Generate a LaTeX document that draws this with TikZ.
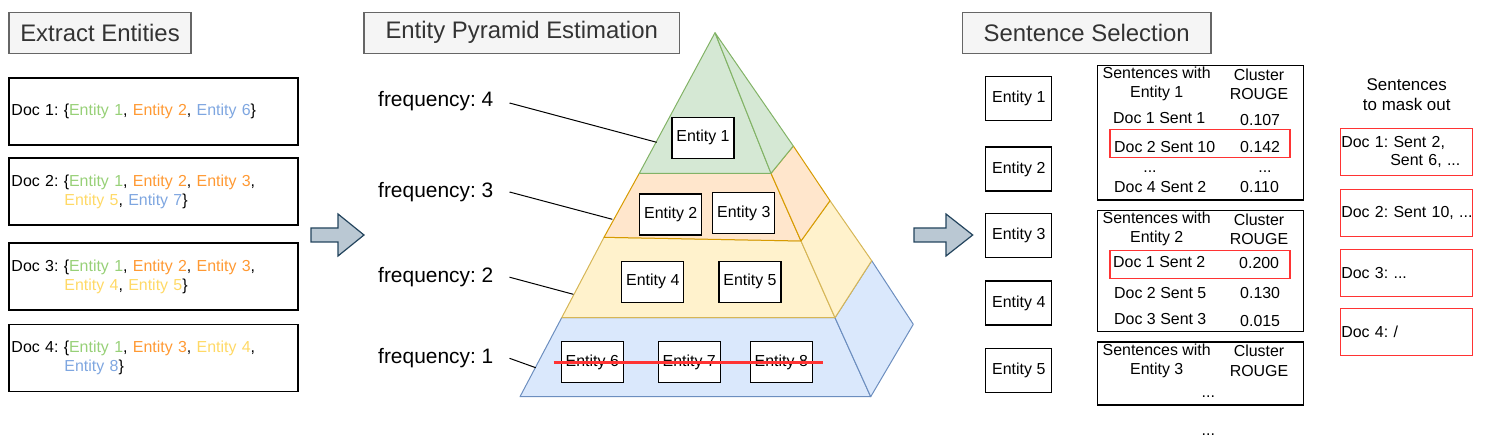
\documentclass[tikz,border=0pt]{standalone}
\usepackage{fontspec}
\setmainfont{Liberation Sans}
\usetikzlibrary{positioning}
\frenchspacing

\definecolor{verde}{HTML}{97D077}
\definecolor{laranja}{HTML}{FF9933}
\definecolor{amarelo}{HTML}{FFD966}
\definecolor{azul}{HTML}{7EA6E0}
\definecolor{verdeclaro}{HTML}{D5E8D4}
\definecolor{verdeborda}{HTML}{82B366}
\definecolor{laranjaclaro}{HTML}{FFE6CC}
\definecolor{laranjaborda}{HTML}{D79B00}
\definecolor{amareloclaro}{HTML}{FFF2CC}
\definecolor{amareloborda}{HTML}{D6B656}
\definecolor{azulclaro}{HTML}{DAE8FC}
\definecolor{azulborda}{HTML}{6C8EBF}
\definecolor{cinzafundo}{HTML}{F5F5F5}
\definecolor{cinzaborda}{HTML}{666666}
\definecolor{cinzatexto}{HTML}{333333}
\definecolor{setafundo}{HTML}{BAC8D3}
\definecolor{setaborda}{HTML}{23445D}
\definecolor{vermelho}{HTML}{FF3333}

\newcommand{\ent}[2]{\textcolor{#1}{Entity #2}}

\begin{document}
\begin{tikzpicture}[x=1bp, y=-1bp,
    font=\fontsize{16}{19.3}\selectfont,
    titulo/.style={draw=cinzaborda, fill=cinzafundo, text=cinzatexto, line width=1.2bp,
        font=\fontsize{24}{28}\selectfont, minimum height=41bp, inner sep=0},
    doc/.style={draw, line width=1.2bp, text width=284bp, inner xsep=2.5bp, align=left,
        minimum height=67bp},
    entidade/.style={draw, fill=white, line width=1.2bp, minimum width=62bp, minimum height=41bp, inner sep=0},
    entidadedir/.style={entidade, minimum width=66bp, minimum height=44bp},
    tabela/.style={draw, line width=1.2bp, minimum width=205.6bp, inner sep=0},
    destaque/.style={draw=vermelho, line width=1.2bp, minimum width=180bp, minimum height=27.6bp, inner sep=0},
    mascara/.style={draw=vermelho, line width=1.2bp, text width=130.4bp, inner xsep=1bp, align=left,
        minimum height=47bp, font=\fontsize{16}{17.7}\selectfont},
    freq/.style={anchor=west, inner sep=0, font=\fontsize{21}{24}\selectfont},
    linha/.style={anchor=west, inner sep=0},
    pontos/.style={anchor=base, inner sep=0},
    seta/.style={fill=setafundo, draw=setaborda, line width=1.2bp, line join=miter},
    camada/.style={line width=1bp, line join=round}
]
\useasboundingbox (0,0) rectangle (1492,438); % area da figura

% titulos
\node[titulo, minimum width=182bp] (tit1) at (100,32.8) {Extract Entities};
\node[titulo, minimum width=315.3bp] (tit2) at (521.7,32.8) {Entity Pyramid Estimation};
\node[titulo, minimum width=248.7bp] (tit3) at (1086.7,32.8) {Sentence Selection};

% documentos
\node[doc] (doc1) at (153.5,111.5) {Doc 1: \{\ent{verde}{1}, \ent{laranja}{2}, \ent{azul}{6}\}};
\node[doc] (doc2) at (153.5,191.5) {Doc 2: \{\ent{verde}{1}, \ent{laranja}{2}, \ent{laranja}{3},\\
    \hspace*{53bp}\ent{amarelo}{5}, \ent{azul}{7}\}};
\node[doc] (doc3) at (153.5,276.5) {Doc 3: \{\ent{verde}{1}, \ent{laranja}{2}, \ent{laranja}{3},\\
    \hspace*{53bp}\ent{amarelo}{4}, \ent{amarelo}{5}\}};
\node[doc] (doc4) at (153.5,358) {Doc 4: \{\ent{verde}{1}, \ent{laranja}{3}, \ent{amarelo}{4},\\
    \hspace*{53bp}\ent{azul}{8}\}};

% setas
\draw[seta] (311,228) -- (338,228) -- (338,214) -- (364,235) -- (338,256) -- (338,242) -- (311,242) -- cycle; % seta 1
\draw[seta] (914,228) -- (946,228) -- (946,214) -- (972.7,235) -- (946,256) -- (946,242) -- (914,242) -- cycle; % seta 2

% piramide
\coordinate (topo) at (715,32.7);
\coordinate (g1) at (639.3,173.3); \coordinate (g2) at (771,173.3); \coordinate (g3) at (793.3,146);
\coordinate (o1) at (604,237.3); \coordinate (o2) at (801,241); \coordinate (o3) at (830,200.7);
\coordinate (a1) at (561.7,317.7); \coordinate (a2) at (835,317.7); \coordinate (a3) at (871.7,260.7);
\coordinate (b1) at (520,396.7); \coordinate (b2) at (870.7,396.7); \coordinate (b3) at (913.3,324.3);
\draw[camada, fill=azulclaro, draw=azulborda] (a1) -- (a2) -- (b2) -- (b1) -- cycle; % frente azul
\draw[camada, fill=azulclaro, draw=azulborda] (a2) -- (a3) -- (b3) -- (b2) -- cycle; % lado azul
\draw[camada, fill=amareloclaro, draw=amareloborda] (o1) -- (o2) -- (a2) -- (a1) -- cycle; % frente amarela
\draw[camada, fill=amareloclaro, draw=amareloborda] (o2) -- (o3) -- (a3) -- (a2) -- cycle; % lado amarelo
\draw[camada, fill=laranjaclaro, draw=laranjaborda] (g1) -- (g2) -- (o2) -- (o1) -- cycle; % frente laranja
\draw[camada, fill=laranjaclaro, draw=laranjaborda] (g2) -- (g3) -- (o3) -- (o2) -- cycle; % lado laranja
\draw[camada, fill=verdeclaro, draw=verdeborda] (topo) -- (g1) -- (g2) -- cycle; % frente verde
\draw[camada, fill=verdeclaro, draw=verdeborda] (topo) -- (g2) -- (g3) -- cycle; % lado verde

% entidades na piramide
\node[entidade] (e1) at (703,137.8) {Entity 1};
\node[entidade] (e2) at (670.7,214.5) {Entity 2};
\node[entidade] (e3) at (743.8,213.3) {Entity 3};
\node[entidade] (e4) at (652.8,281.8) {Entity 4};
\node[entidade] (e5) at (750,281.8) {Entity 5};
\node[entidade] (e6) at (592.3,362.2) {Entity 6};
\node[entidade] (e7) at (689.2,362.2) {Entity 7};
\node[entidade] (e8) at (781.3,362.2) {Entity 8};
\draw[vermelho, line width=2.6bp] ([xshift=-7bp]e6.west) -- ([xshift=10bp]e8.east); % riscado

% frequencias
\node[freq] (f4) at (378,101.5) {frequency: 4};
\node[freq] (f3) at (378,192) {frequency: 3};
\node[freq] (f2) at (378,277.2) {frequency: 2};
\node[freq] (f1) at (378,358.3) {frequency: 1};
\coordinate (p4) at (656.7,142.3);
\coordinate (p3) at (612.3,219.3);
\coordinate (p2) at (573.3,294.3);
\coordinate (p1) at (535.7,367.7);
\draw[line width=1bp] ([xshift=16bp,yshift=-1.5bp]f4.east) -- (p4);
\draw[line width=1bp] ([xshift=16bp]f3.east) -- (p3);
\draw[line width=1bp] ([xshift=16bp]f2.east) -- (p2);
\draw[line width=1bp] ([xshift=16bp]f1.east) -- (p1);

% entidades da selecao
\node[entidadedir] (s1) at (1018.8,98.5) {Entity 1};
\node[entidadedir] (s2) at (1018.8,169) {Entity 2};
\node[entidadedir] (s3) at (1018.8,235.8) {Entity 3};
\node[entidadedir] (s4) at (1018.8,303) {Entity 4};
\node[entidadedir] (s5) at (1018.8,370.5) {Entity 5};

% tabelas
\node[tabela, minimum height=134.3bp] (t1) at (1200.5,132.8) {};
\node[tabela, minimum height=121bp] (t2) at (1200.5,271.2) {};
\node[tabela, minimum height=63bp] (t3) at (1200.5,373.5) {};
\node[destaque] (h1) at (1200,143.5) {};
\node[destaque] (h2) at (1200,264.5) {};

\node[align=center, inner sep=0] (t1a) at (1156.7,84.2) {Sentences with\\Entity 1};
\node[align=center, inner sep=0] (t1b) at (1259,84.2) {Cluster\\ROUGE};
\node[linha] (r11) at (1113,117.7) {Doc 1 Sent 1};
\node[linha] (v11) at (1240,120) {0.107};
\node[linha] (r12) at (1114,147.3) {Doc 2 Sent 10};
\node[linha] (v12) at (1240,147.3) {0.142};
\node[pontos] (r13) at (1150,172.5) {...};
\node[pontos] (v13) at (1265,172.5) {...};
\node[linha] (r14) at (1114,187.3) {Doc 4 Sent 2};
\node[linha] (v14) at (1240,187.3) {0.110};

\node[align=center, inner sep=0] (t2a) at (1156.7,229.2) {Sentences with\\Entity 2};
\node[align=center, inner sep=0] (t2b) at (1259,229.2) {Cluster\\ROUGE};
\node[linha] (r21) at (1113,262.3) {Doc 1 Sent 2};
\node[linha] (v21) at (1239,263) {0.200};
\node[linha] (r22) at (1114,293.3) {Doc 2 Sent 5};
\node[linha] (v22) at (1240,293.3) {0.130};
\node[linha] (r23) at (1114,319.3) {Doc 3 Sent 3};
\node[linha] (v23) at (1240,321) {0.015};

\node[align=center, inner sep=0] (t3a) at (1156.7,360.8) {Sentences with\\Entity 3};
\node[align=center, inner sep=0] (t3b) at (1259,360.8) {Cluster\\ROUGE};
\node[pontos] (r31) at (1208.3,397) {...};
\node[pontos] (mais) at (1208.3,435) {...};

% sentencas mascaradas
\node[align=center, inner sep=0, font=\fontsize{17}{19.3}\selectfont] (masc) at (1406.7,94.7) {Sentences\\to mask out};
\node[mascara] (m1) at (1406.5,152.2) {Doc 1: Sent 2,\\\hspace*{49bp}Sent 6, ...};
\node[mascara] (m2) at (1406.5,212.7) {\mbox{Doc 2: Sent 10, ...}};
\node[mascara] (m3) at (1406.5,273.2) {Doc 3: ...};
\node[mascara] (m4) at (1406.5,332.2) {Doc 4: /};
\end{tikzpicture}
\end{document}
